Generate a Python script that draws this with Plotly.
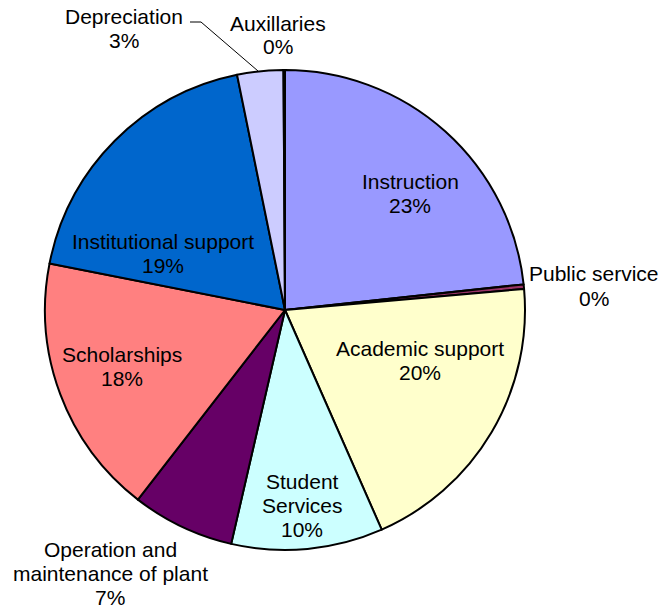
import plotly.graph_objects as go

W, H = 663, 611

categories = ["Instruction", "Public service", "Academic support", "Student Services",
              "Operation and maintenance of plant", "Scholarships", "Institutional support",
              "Depreciation", "Auxillaries"]
values = [23.3, 0.3, 19.8, 10.2, 6.9, 17.6, 18.7, 3.1, 0.1]
colors = ["#9999FF", "#993366", "#FFFFCC", "#CCFFFF", "#660066", "#FF8080",
          "#0066CC", "#CCCCFF", "#000080"]
pct_labels = ["23%", "0%", "20%", "10%", "7%", "18%", "19%", "3%", "0%"]
label_lines = [["Instruction"], ["Public service"], ["Academic support"],
               ["Student", "Services"], ["Operation and", "maintenance of plant"],
               ["Scholarships"], ["Institutional support"], ["Depreciation"], ["Auxillaries"]]
# label anchor (pixel center of first line)
label_pos = [(410, 181), (594, 274), (420, 348), (302, 481), (110, 549),
             (122, 354), (163, 241), (124, 16), (278, 23)]

cx, cy, r = 285, 310, 240

fig = go.Figure(go.Pie(
    labels=categories, values=values, sort=False, direction="clockwise", rotation=0,
    marker=dict(colors=colors, line=dict(color="black", width=2)),
    textinfo="none", hoverinfo="label+percent", showlegend=False,
    domain=dict(x=[(cx - r) / W, (cx + r) / W], y=[1 - (cy + r) / H, 1 - (cy - r) / H]),
))

LS = 24
for lines, pct, (px, py) in zip(label_lines, pct_labels, label_pos):
    for i, t in enumerate(lines + [pct]):
        fig.add_annotation(x=px / W, y=1 - (py + i * LS) / H, xref="paper", yref="paper",
                           text=t, showarrow=False, xanchor="center", yanchor="middle",
                           font=dict(family="Liberation Sans, Arial, sans-serif", size=21,
                                     color="black"))

pts = [(190, 22), (201, 22), (258, 71)]
path = "M " + " L ".join(f"{x / W},{1 - y / H}" for x, y in pts)
fig.add_shape(type="path", path=path, xref="paper", yref="paper",
              line=dict(color="black", width=1))

fig.update_layout(width=W, height=H, margin=dict(l=0, r=0, t=0, b=0),
                  paper_bgcolor="white", plot_bgcolor="white")
fig.write_html("out.html", config={"displayModeBar": False},
               post_script="document.body.style.margin='0';document.body.style.overflow='hidden';")
